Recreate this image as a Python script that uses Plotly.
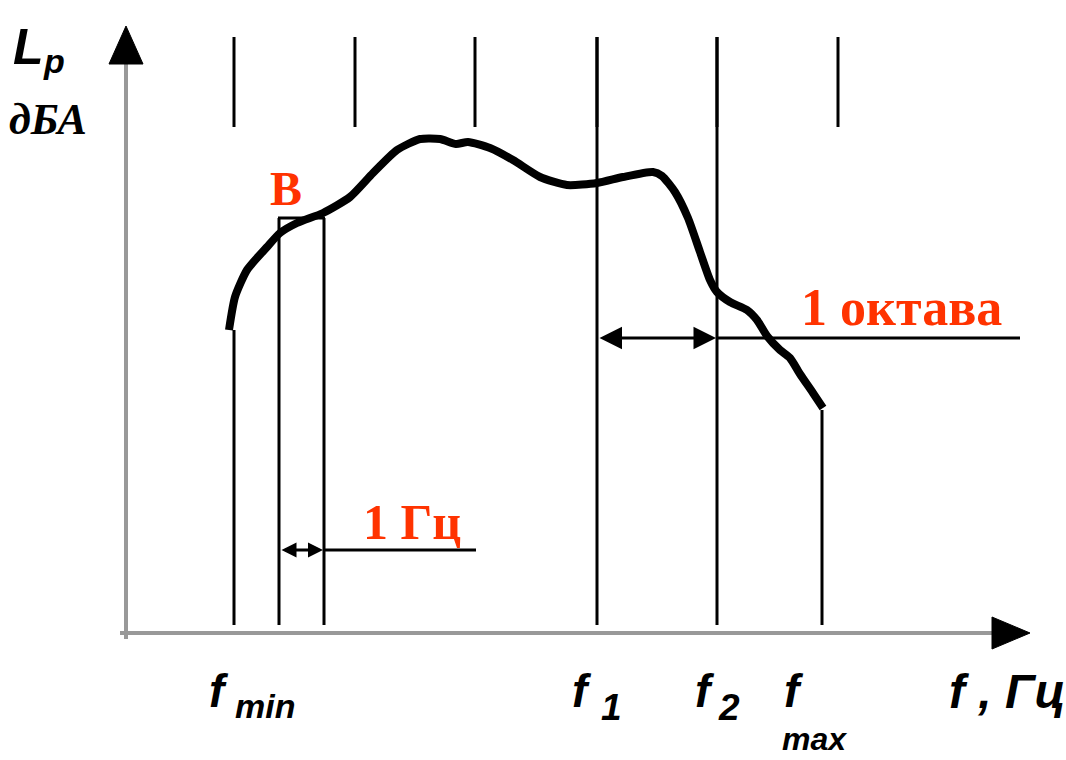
import plotly.graph_objects as go

# Spectrum curve L_p(f), drawn in sheet units (x grows right, y grows down)
curve_f = [229, 235, 247, 267, 280, 297, 323, 350, 373, 397, 420, 440, 456, 468,
           490, 513, 540, 567, 597, 623, 653, 662, 675, 688, 700, 710, 717, 730,
           747, 757, 767, 780, 790, 800, 813, 823]
curve_L = [330, 297, 270, 247, 233, 223, 213, 197, 173, 150, 139, 139, 144, 142,
           148, 160, 177, 185, 183, 177, 172, 176, 192, 218, 252, 280, 292, 302,
           310, 320, 336, 350, 358, 374, 393, 408]

# Octave-band markers along the top (band edges)
band_edges = [234, 355, 475, 597, 717, 838]
band_top, band_bottom = 37, 127

# Frequency markers dropped to the baseline
f_min, f_b_lo, f_b_hi, f_1, f_2, f_max = 234, 279, 324, 597, 717, 822
drop_x = [f_min, f_b_lo, f_b_hi, f_1, f_2, f_max]
drop_top = [330, 218, 218, 37, 37, 410]
drop_bottom = 625

# Axes geometry
origin_x, origin_y = 126, 633
y_axis_top, x_axis_right = 30, 1030

# Dimension lines
hz_y, hz_tail = 550, 476
oct_y, oct_tail = 338, 1020

RED = "#FF3300"
SANS = "Liberation Sans, Arial, sans-serif"
SERIF = "Liberation Serif, Times New Roman, serif"

fig = go.Figure()

# Axis lines (grey)
fig.add_trace(go.Scatter(x=[origin_x, origin_x, None, origin_x - 6, x_axis_right - 30],
                         y=[y_axis_top + 30, origin_y + 6, None, origin_y, origin_y],
                         mode="lines", line=dict(color="#999999", width=4),
                         hoverinfo="skip"))


def seg_lists(xs, tops, bottoms):
    X, Y = [], []
    for x, t, b in zip(xs, tops, bottoms):
        X += [x, x, None]
        Y += [t, b, None]
    return X, Y


# Top band markers
bx, by = seg_lists(band_edges, [band_top] * len(band_edges), [band_bottom] * len(band_edges))
fig.add_trace(go.Scatter(x=bx, y=by, mode="lines", line=dict(color="black", width=3),
                         hoverinfo="skip"))

# Vertical drop lines
dx, dy = seg_lists(drop_x, drop_top, [drop_bottom] * len(drop_x))
fig.add_trace(go.Scatter(x=dx, y=dy, mode="lines", line=dict(color="black", width=3),
                         hoverinfo="skip"))

# Box top for the 1 Hz strip B
fig.add_trace(go.Scatter(x=[f_b_lo - 1, f_b_hi + 1], y=[218, 218], mode="lines",
                         line=dict(color="black", width=3), hoverinfo="skip"))

# Extension lines of the dimension arrows
fig.add_trace(go.Scatter(x=[f_b_hi, hz_tail, None, f_2, oct_tail],
                         y=[hz_y, hz_y, None, oct_y, oct_y], mode="lines",
                         line=dict(color="black", width=3), hoverinfo="skip"))

# Spectrum curve
fig.add_trace(go.Scatter(x=curve_f, y=curve_L, mode="lines",
                         line=dict(color="black", width=8, shape="spline", smoothing=0.6),
                         hoverinfo="skip"))

shapes = [
    # arrowhead of the L_p axis
    dict(type="path", path=f"M {origin_x} {y_axis_top - 4} L {origin_x - 17} {y_axis_top + 34} "
                           f"L {origin_x + 17} {y_axis_top + 34} Z",
         fillcolor="black", line=dict(color="black", width=1)),
    # arrowhead of the f axis
    dict(type="path", path=f"M {x_axis_right} {origin_y} L {x_axis_right - 38} {origin_y - 16} "
                           f"L {x_axis_right - 38} {origin_y + 16} Z",
         fillcolor="black", line=dict(color="black", width=1)),
]

annotations = []


def dbl_arrow(x0, x1, y, size):
    annotations.append(dict(x=x1, y=y, ax=x0, ay=y, xref="x", yref="y", axref="x", ayref="y",
                            text="", showarrow=True, arrowhead=2, arrowside="end+start",
                            arrowsize=size, arrowwidth=3, arrowcolor="black",
                            standoff=0, startstandoff=0))


dbl_arrow(f_b_lo + 1, f_b_hi - 1, hz_y, 1.0)
dbl_arrow(f_1 + 1, f_2 - 1, oct_y, 1.5)


def label(x, y, text, size, family, color="black", anchor="left", bold=True, italic=False):
    t = text
    if bold:
        t = f"<b>{t}</b>"
    if italic:
        t = f"<i>{t}</i>"
    annotations.append(dict(x=x, y=y, xref="x", yref="y", text=t, showarrow=False,
                            xanchor=anchor, yanchor="middle", borderpad=0,
                            font=dict(size=size, family=family, color=color)))


# Axis titles
label(12, 47, "L", 50, SANS, italic=True)
label(42, 61, "p", 34, SANS, italic=True)
label(8, 119, "дБА", 44, SERIF, italic=True)

# Frequency labels
label(208, 691, "f", 46, SANS, italic=True)
label(234, 706, "min", 34, SANS, italic=True)
label(571, 691, "f", 46, SANS, italic=True)
label(600, 707, "1", 37, SANS, italic=True)
label(694, 691, "f", 46, SANS, italic=True)
label(717, 707, "2", 37, SANS, italic=True)
label(783, 691, "f", 46, SANS, italic=True)
label(781, 739, "max", 32, SANS, italic=True)
label(948, 691, "f , Гц", 48, SANS, italic=True)

# Red annotations
label(286, 188, "B", 48, SERIF, color=RED, anchor="center")
label(901, 307, "1 октава", 52, SERIF, color=RED, anchor="center")
label(412, 522, "1 Гц", 50, SERIF, color=RED, anchor="center")

fig.update_layout(
    width=1066, height=760,
    margin=dict(l=0, r=0, t=0, b=0),
    paper_bgcolor="white", plot_bgcolor="white",
    showlegend=False,
    xaxis=dict(range=[0, 1066], visible=False, fixedrange=True),
    yaxis=dict(range=[760, 0], visible=False, fixedrange=True),
    shapes=shapes,
    annotations=annotations,
)

fig.write_html("out.html", config={"displayModeBar": False})
